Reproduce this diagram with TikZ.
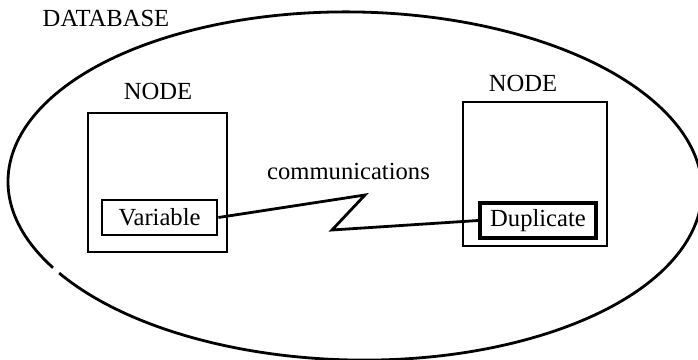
\documentclass[tikz,border=0pt]{standalone}
\usepackage{fontspec}
\setmainfont{Liberation Serif}
\begin{document}
\begin{tikzpicture}[x=1pt,y=1pt,
  every node/.style={font=\fontsize{24.6}{29}\selectfont},
  sitebox/.style={draw, line width=2.8pt, inner sep=0pt},
  itembox/.style={draw, line width=2.8pt, inner sep=0pt, minimum height=35pt},
  caption/.style={anchor=base, inner sep=0pt},
  link/.style={line width=2.8pt, line join=miter}]
\useasboundingbox (0,0) rectangle (698,359);

% database boundary, drawn as an open ellipse arc
\coordinate (dbc) at (355,173);
\draw[line width=2.8pt, rotate around={-1:(dbc)}]
  (dbc) ++(212:347 and 174) arc[start angle=212, end angle=570, x radius=347, y radius=174];
\node[caption] (dblabel) at (106,332) {DATABASE};

% left site
\node[sitebox, minimum width=139pt, minimum height=139pt] (siteA) at (157.5,176.5) {};
\node[caption] (siteAlabel) at (158,259) {NODE};
\node[itembox, minimum width=115pt] (var) at (159.5,141.5) {Variable};

% right site
\node[sitebox, minimum width=144pt, minimum height=144pt] (siteB) at (535,185) {};
\node[caption] (siteBlabel) at (523,267) {NODE};
\node[itembox, line width=3.4pt, minimum width=116pt] (dup) at (538,138.5) {Duplicate};

% communications link
\node[caption] (comm) at (348.5,179) {communications};
\coordinate (zigA) at (365,164);
\coordinate (zigB) at (332,129);
\draw[link] (var.east) -- (zigA) -- (zigB) -- (dup.west);
\end{tikzpicture}
\end{document}
